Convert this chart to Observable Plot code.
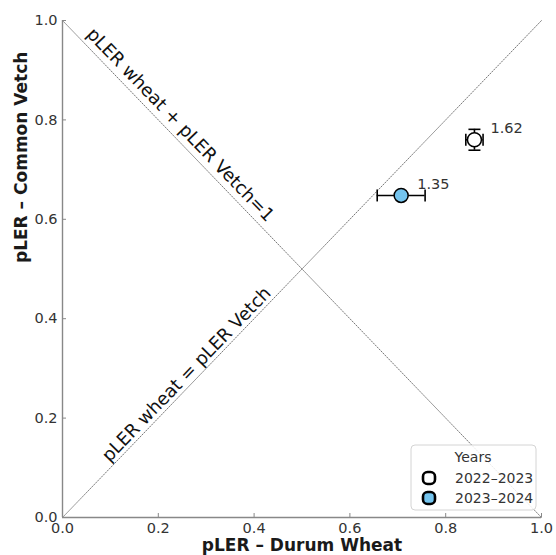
<!DOCTYPE html>
<html><head><meta charset="utf-8">
<script src="https://cdn.jsdelivr.net/npm/d3@7"></script>
<script src="https://cdn.jsdelivr.net/npm/@observablehq/plot@0.6"></script>
<style>body{margin:0;background:#fff;} svg{display:block;}</style>
</head><body><div id="chart"></div>
<script>
const years = ["2022–2023", "2023–2024"];
const wheatPLER = [0.86, 0.707];
const vetchPLER = [0.76, 0.648];
const wheatSE = [0.018, 0.05];
const vetchSE = [0.021, 0];
const totalLER = [1.62, 1.35];
const xTicks = [0, 0.2, 0.4, 0.6, 0.8, 1.0];
const yTicks = [0, 0.2, 0.4, 0.6, 0.8, 1.0];
const refEqual = [[0, 0], [1, 1]];
const refSum = [[0, 1], [1, 0]];
const refEqualLabel = "pLER wheat = pLER Vetch";
const refSumLabel = "pLER wheat + pLER Vetch=1";
const xLabel = "pLER – Durum Wheat";
const yLabel = "pLER – Common Vetch";
const legendTitle = "Years";

const rows = years.map((yr, i) => ({year: yr, x: wheatPLER[i], y: vetchPLER[i], ex: wheatSE[i], ey: vetchSE[i], ler: totalLER[i]}));
const yErrRows = rows.filter(d => d.ey > 0);

const W = 556, H = 555, mL = 62, mR = 15, mT = 20, mB = 38;
const angle = Math.atan2(H - mT - mB, W - mL - mR) * 180 / Math.PI;
const FONT = "DejaVu Sans";
const colors = ["#ffffff", "#74c4ee"];
const fmt = d3.format(".1f");

const vCap = {draw(ctx, size) { const r = Math.sqrt(size / Math.PI); ctx.moveTo(0, -r); ctx.lineTo(0, r); }};
const hCap = {draw(ctx, size) { const r = Math.sqrt(size / Math.PI); ctx.moveTo(-r, 0); ctx.lineTo(r, 0); }};

const chart = Plot.plot({
  width: W, height: H,
  marginLeft: mL, marginRight: mR, marginTop: mT, marginBottom: mB,
  style: {fontFamily: FONT, fontSize: "14.5px", color: "#333", background: "white"},
  x: {domain: [0, 1]},
  y: {domain: [0, 1]},
  color: {domain: years, range: colors},
  marks: [
    Plot.line(refEqual, {x: d => d[0], y: d => d[1], stroke: "#777", strokeWidth: 1, strokeDasharray: "1.2,1.6"}),
    Plot.line(refSum, {x: d => d[0], y: d => d[1], stroke: "#777", strokeWidth: 1, strokeDasharray: "1.2,1.6"}),
    Plot.text([refSumLabel], {x: 0.246, y: 0.79, text: d => d, rotate: angle, fontSize: 18, fill: "#111", textAnchor: "middle", lineAnchor: "middle"}),
    Plot.text([refEqualLabel], {x: 0.259, y: 0.288, text: d => d, rotate: -angle, fontSize: 18, fill: "#111", textAnchor: "middle", lineAnchor: "middle"}),
    Plot.ruleX([0], {stroke: "#888", strokeWidth: 1.4}),
    Plot.ruleY([0], {stroke: "#888", strokeWidth: 1.4}),
    // tick labels
    Plot.axisX({ticks: xTicks, tickFormat: fmt, tickSize: 0, tickPadding: 5, fill: "#333", label: null}),
    Plot.axisY({ticks: yTicks, tickFormat: fmt, tickSize: 0, tickPadding: 5, fill: "#333", label: null}),
    // inward tick marks
    Plot.axisX({ticks: xTicks, tickFormat: () => "", tickSize: 4, dy: -4, stroke: "#888", label: null}),
    Plot.axisY({ticks: yTicks, tickFormat: () => "", tickSize: 4, dx: 4, stroke: "#888", label: null}),
    Plot.text([xLabel], {frameAnchor: "bottom", dy: 28, text: d => d, fontSize: 17, fontWeight: "bold", fill: "#1a1a1a", lineAnchor: "middle"}),
    Plot.text([yLabel], {frameAnchor: "left", dx: -41, dy: -6, rotate: -90, text: d => d, fontSize: 17, fontWeight: "bold", fill: "#1a1a1a", lineAnchor: "middle"}),
    // error bars
    Plot.ruleY(rows, {y: "y", x1: d => d.x - d.ex, x2: d => d.x + d.ex, stroke: "black", strokeWidth: 1.6}),
    Plot.ruleX(yErrRows, {x: "x", y1: d => d.y - d.ey, y2: d => d.y + d.ey, stroke: "black", strokeWidth: 1.6}),
    Plot.dot(rows, {x: d => d.x - d.ex, y: "y", symbol: vCap, r: 6, stroke: "black", strokeWidth: 1.6}),
    Plot.dot(rows, {x: d => d.x + d.ex, y: "y", symbol: vCap, r: 6, stroke: "black", strokeWidth: 1.6}),
    Plot.dot(yErrRows, {x: "x", y: d => d.y - d.ey, symbol: hCap, r: 6, stroke: "black", strokeWidth: 1.6}),
    Plot.dot(yErrRows, {x: "x", y: d => d.y + d.ey, symbol: hCap, r: 6, stroke: "black", strokeWidth: 1.6}),
    Plot.dot(rows, {x: "x", y: "y", r: 7, fill: "year", stroke: "black", strokeWidth: 1.5}),
    Plot.text(rows, {x: "x", y: "y", text: d => d.ler.toFixed(2), dx: 16, dy: -11, textAnchor: "start", fontSize: 14.5, fill: "#333"})
  ]
});

document.getElementById("chart").appendChild(chart);

// legend overlay
const svg = d3.select(chart);
const lg = svg.append("g").attr("font-family", FONT).attr("font-size", 14).attr("text-anchor", "start");
lg.append("rect").attr("x", 411).attr("y", 445).attr("width", 125).attr("height", 65)
  .attr("rx", 4).attr("fill", "white").attr("fill-opacity", 0.85).attr("stroke", "#d4d4d4").attr("stroke-width", 1);
lg.append("text").attr("x", 473).attr("y", 457).attr("dy", "0.35em").attr("text-anchor", "middle").attr("fill", "#333").text(legendTitle);
years.forEach((yr, i) => {
  const cy = 478 + i * 20;
  lg.append("rect").attr("x", 423).attr("y", cy - 6).attr("width", 12).attr("height", 12).attr("rx", 4.5)
    .attr("fill", colors[i]).attr("stroke", "black").attr("stroke-width", 2.6);
  lg.append("text").attr("x", 455).attr("y", cy).attr("dy", "0.35em").attr("text-anchor", "start").attr("fill", "#333").text(yr);
});
</script>
</body></html>
